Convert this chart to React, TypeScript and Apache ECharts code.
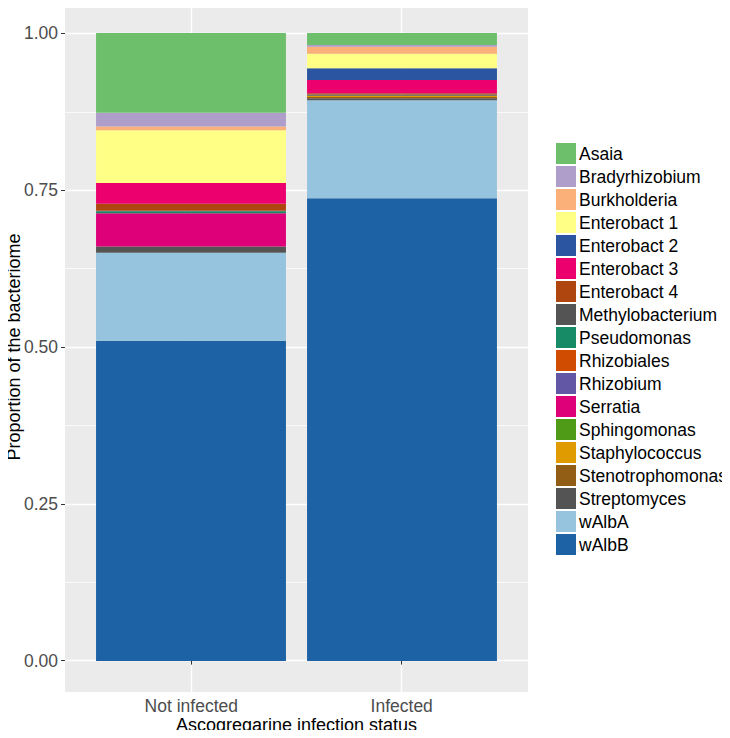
import React, { useEffect, useRef } from "react";
import * as echarts from "echarts";

const groups = ["Not infected", "Infected"];

// Legend order (top of the stack first)
const taxa = [
  "Asaia",
  "Bradyrhizobium",
  "Burkholderia",
  "Enterobact 1",
  "Enterobact 2",
  "Enterobact 3",
  "Enterobact 4",
  "Methylobacterium",
  "Pseudomonas",
  "Rhizobiales",
  "Rhizobium",
  "Serratia",
  "Sphingomonas",
  "Staphylococcus",
  "Stenotrophomonas",
  "Streptomyces",
  "wAlbA",
  "wAlbB",
];

const colors = [
  "#6DBF6C",
  "#AF9DCA",
  "#FAB078",
  "#FFFF85",
  "#2B55A0",
  "#EB006E",
  "#B0460F",
  "#545454",
  "#168B66",
  "#D04C00",
  "#6257A5",
  "#DE0078",
  "#4F9A17",
  "#E09B00",
  "#925D14",
  "#545454",
  "#96C3DD",
  "#1C62A4",
];

// proportions per taxon
const notInfected = [
  0.127, 0.022, 0.006, 0.084, 0.0, 0.033, 0.011, 0.001, 0.003, 0.0, 0.0, 0.053, 0.0, 0.0, 0.0, 0.01, 0.14, 0.51,
];
const infected = [
  0.019, 0.003, 0.011, 0.023, 0.019, 0.021, 0.002, 0.002, 0.0, 0.0, 0.0, 0.0, 0.0, 0.002, 0.002, 0.003, 0.156, 0.737,
];

const yTicks = [0, 0.25, 0.5, 0.75, 1];
const yMinor = [0.125, 0.375, 0.625, 0.875];
const xTicks = [1, 2];

const FONT = "Liberation Sans, Arial, Helvetica, sans-serif";

export default function App() {
  const ref = useRef<HTMLDivElement>(null);
  useEffect(() => {
    if (!ref.current) return;
    const chart = echarts.init(ref.current, null, { renderer: "svg" });
    // stack from bottom: reverse legend order
    const order = taxa.map((_, i) => i).reverse();
    const series = order.map((i) => ({
      name: taxa[i],
      type: "bar",
      stack: "total",
      xAxisIndex: 1,
      yAxisIndex: 2,
      barWidth: "90%",
      itemStyle: { color: colors[i] },
      data: [notInfected[i], infected[i]],
    }));
    chart.setOption({
      animation: false,
      textStyle: { fontFamily: FONT },
      grid: [
        {
          left: 65,
          right: 202,
          top: 2,
          bottom: 46,
          show: true,
          backgroundColor: "#EBEBEB",
          borderWidth: 0,
          containLabel: false,
          outerBoundsMode: "none",
        },
        {
          left: 85.5,
          width: 422,
          top: 33,
          height: 628,
          show: false,
          containLabel: false,
          outerBoundsMode: "none",
        },
      ],
      legend: {
        orient: "vertical",
        left: 551,
        top: 138,
        itemWidth: 20,
        itemHeight: 21,
        itemGap: 2,
        icon: "rect",
        data: taxa,
        textStyle: { fontSize: 17.5, color: "#000", fontFamily: FONT, padding: [0, 0, 0, -2] },
      },
      xAxis: [
        {
          type: "value",
          gridIndex: 0,
          min: 0.4,
          max: 2.6,
          axisLine: { show: false },
          axisTick: { show: true, length: 4, lineStyle: { color: "#333" }, customValues: xTicks },
          axisLabel: {
            customValues: xTicks,
            formatter: (v: number) => groups[Math.round(v) - 1] ?? "",
            color: "#4D4D4D",
            fontSize: 17.5,
            margin: 5,
            fontFamily: FONT,
          },
          splitLine: { show: true, lineStyle: { color: "#FFFFFF", width: 1.4 } },
          name: "Ascogregarine infection status",
          nameLocation: "middle",
          nameGap: 24,
          nameMoveOverlap: false,
          nameTextStyle: { fontSize: 18, color: "#000", fontFamily: FONT },
        },
        {
          type: "category",
          gridIndex: 1,
          data: groups,
          show: false,
        },
      ],
      yAxis: [
        {
          type: "value",
          gridIndex: 0,
          min: -0.05,
          max: 1.05,
          axisLine: { show: false },
          axisTick: { show: true, length: 4, lineStyle: { color: "#333" }, customValues: yTicks },
          axisLabel: {
            customValues: yTicks,
            formatter: (v: number) => v.toFixed(2),
            color: "#4D4D4D",
            fontSize: 17.5,
            margin: 7,
            fontFamily: FONT,
          },
          splitLine: { show: true, lineStyle: { color: "#FFFFFF", width: 1.4 } },
          name: "Proportion of the bacteriome",
          nameLocation: "middle",
          nameGap: 42,
          nameMoveOverlap: false,
          nameTextStyle: { fontSize: 18, color: "#000", fontFamily: FONT },
        },
        {
          type: "value",
          gridIndex: 0,
          min: -0.05,
          max: 1.05,
          position: "left",
          axisLine: { show: false },
          axisTick: { show: false, customValues: yMinor },
          axisLabel: { show: false, customValues: yMinor },
          splitLine: { show: true, lineStyle: { color: "#FFFFFF", width: 0.7 } },
        },
        {
          type: "value",
          gridIndex: 1,
          min: 0,
          max: 1,
          show: false,
          splitLine: { show: false },
        },
      ],
      series,
    });
    return () => chart.dispose();
  }, []);
  return <div ref={ref} style={{ width: 730, height: 738, margin: -8 }} />;
}
